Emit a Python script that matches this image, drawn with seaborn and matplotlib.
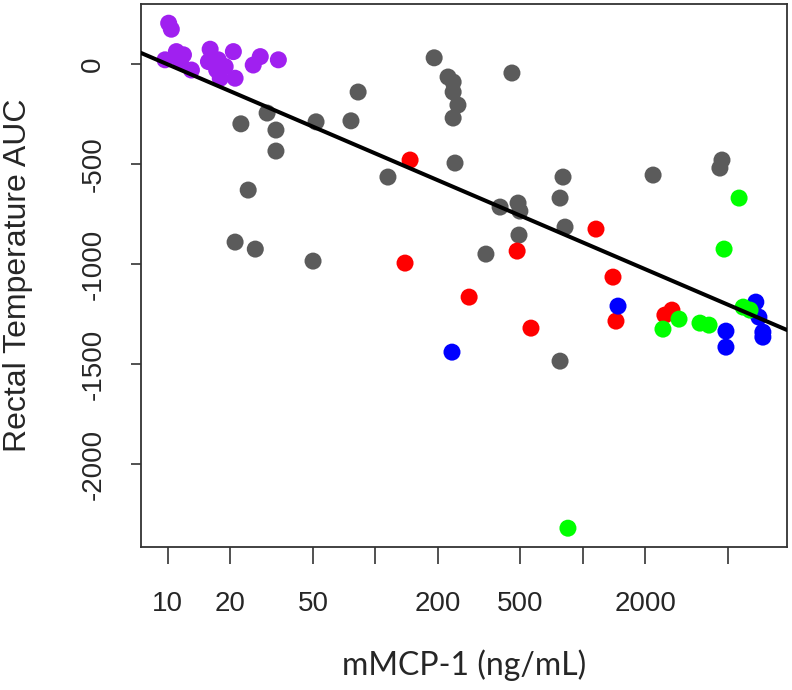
import numpy as np
import pandas as pd
import matplotlib
matplotlib.use("Agg")
import matplotlib.pyplot as plt
import seaborn as sns

# values (x = mMCP-1 ng/mL, y = rectal temperature AUC)
purple_x = [10.1, 10.4, 9.7, 11.0, 11.9, 11.5, 13.0, 16.0, 20.7, 15.7, 17.5, 18.9,
            17.9, 21.1, 17.2, 27.9, 25.8, 34.1]
purple_y = [205, 175, 22, 63, 47, 13, -29, 75, 63, 13, 22, -12,
            -70, -70, -29, 38, -4, 22]

gray_x = [22.5, 30.1, 33.2, 51.8, 76.3, 82.6, 33.2, 24.4, 21.1, 26.4, 50.1, 115,
          192, 224, 237, 237, 250, 237, 242, 455, 399, 487, 497, 341, 492, 820,
          802, 776, 776, 2178, 4677, 4571]
gray_y = [-298, -244, -329, -288, -283, -139, -434, -629, -889, -924, -984, -564,
          32, -64, -89, -139, -204, -269, -494, -44, -714, -694, -734, -949, -854, -814,
          -564, -669, -1484, -554, -479, -519]

red_x = [147, 139, 283, 482, 562, 1156, 1396, 1443, 2483, 2685]
red_y = [-479, -994, -1164, -934, -1319, -824, -1064, -1284, -1254, -1229]

blue_x = [234, 1476, 4887, 4887, 6808, 7046, 7362, 7362]
blue_y = [-1439, -1209, -1334, -1414, -1189, -1264, -1339, -1364]

green_x = [847, 2430, 2904, 3664, 4052, 4786, 5654, 5915, 6383]
green_y = [-2319, -1324, -1274, -1294, -1304, -924, -669, -1214, -1229]

# regression line: y = a + b * log10(x)
fit_intercept = 444
fit_slope = -445

x_ticks = [10, 20, 50, 100, 200, 500, 1000, 2000, 5000]
x_tick_labels = ["10", "20", "50", "", "200", "500", "", "2000", ""]
y_ticks = [0, -500, -1000, -1500, -2000]

groups = {"purple": (purple_x, purple_y), "gray": (gray_x, gray_y),
          "red": (red_x, red_y), "blue": (blue_x, blue_y), "green": (green_x, green_y)}
colors = {"purple": "#a020f0", "gray": "#5b5b5b", "red": "#ff0000",
          "blue": "#0000ff", "green": "#00ff00"}

df = pd.concat([pd.DataFrame({"x": gx, "y": gy, "group": g}) for g, (gx, gy) in groups.items()],
               ignore_index=True)

sns.set_theme(style="white")
plt.rcParams["font.family"] = ["Liberation Sans", "DejaVu Sans"]

fig = plt.figure(figsize=(7.92, 6.90), dpi=100)
ax = fig.add_axes([141 / 792, 1 - 547 / 690, 646 / 792, 543 / 690])

sns.scatterplot(data=df, x="x", y="y", hue="group", palette=colors, s=150,
                edgecolor="none", legend=False, ax=ax, zorder=2)

ax.set_xscale("log")
ax.set_xlim(7.43, 9620)
ax.set_ylim(-2413, 301)

line_x = np.logspace(np.log10(7.43), np.log10(9620), 50)
ax.plot(line_x, fit_intercept + fit_slope * np.log10(line_x), color="black", lw=2.9, zorder=3)

ax.set_xticks(x_ticks)
ax.set_xticklabels(x_tick_labels)
ax.xaxis.set_minor_locator(matplotlib.ticker.NullLocator())
ax.set_yticks(y_ticks)
ax.set_yticklabels([str(v) for v in y_ticks], rotation=90, va="center")

ax.tick_params(axis="x", length=12, width=1.2, color="#333333", pad=20, labelsize=20,
               bottom=True, direction="out")
ax.tick_params(axis="y", length=7, width=1.2, color="#333333", pad=18, labelsize=20,
               left=True, direction="out")

for sp in ax.spines.values():
    sp.set_visible(True)
    sp.set_color("#333333")
    sp.set_linewidth(1.3)

ax.set_xlabel("mMCP-1 (ng/mL)", fontsize=23, family=["Lato", "DejaVu Sans"])
ax.xaxis.set_label_coords(0.5, (547 - 665) / 543)
ax.xaxis.label.set_verticalalignment("center")
ax.set_ylabel("Rectal Temperature AUC", fontsize=23)
ax.yaxis.set_label_coords((18 - 141) / 646, 0.5)
ax.yaxis.label.set_verticalalignment("center")

fig.savefig("out.png", dpi=100)
